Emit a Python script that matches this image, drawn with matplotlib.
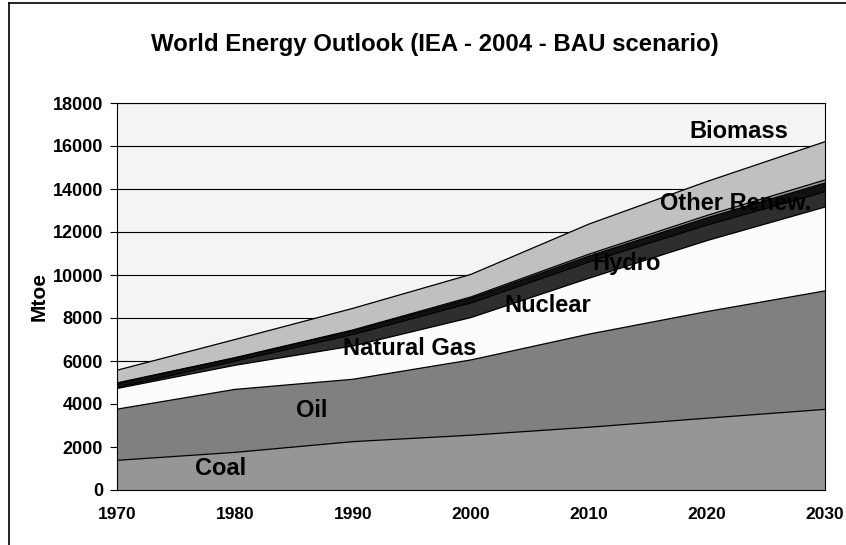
import numpy as np
import matplotlib
matplotlib.use("Agg")
import matplotlib.pyplot as plt
from matplotlib.lines import Line2D

plt.rcParams['font.family'] = ['Liberation Sans', 'DejaVu Sans']

years = [1970, 1980, 1990, 2000, 2010, 2020, 2030]
coal = [1380, 1750, 2250, 2550, 2920, 3340, 3750]
oil = [2380, 2930, 2900, 3500, 4330, 4960, 5510]
natural_gas = [960, 1120, 1550, 1970, 2600, 3300, 3900]
nuclear = [40, 190, 530, 680, 750, 720, 710]
hydro = [200, 150, 180, 225, 280, 340, 410]
other_renew = [20, 15, 35, 55, 90, 110, 140]
biomass = [590, 845, 1005, 1050, 1400, 1580, 1780]

series_names = ["Coal", "Oil", "Natural Gas", "Nuclear", "Hydro", "Other Renew.", "Biomass"]
series = [coal, oil, natural_gas, nuclear, hydro, other_renew, biomass]
colors = ["#969696", "#808080", "#fcfcfc", "#2e2e2e", "#111111", "#9a9a9a", "#c0c0c0"]
yticks = list(range(0, 18001, 2000))

W, H = 846, 545
fig = plt.figure(figsize=(W / 100, H / 100), dpi=100)
ax = fig.add_axes([117 / W, 1 - 490 / H, (825 - 117) / W, (490 - 103) / H])
ax.set_facecolor("#f4f4f4")

x = np.array(years)
base = np.zeros(len(years))
for vals, col in zip(series, colors):
    top = base + np.array(vals)
    ax.fill_between(x, base, top, facecolor=col, edgecolor="none", zorder=2)
    ax.plot(x, top, color="black", lw=0.9, zorder=3)
    base = top

ax.set_xlim(1970, 2030)
ax.set_ylim(0, 18000)
ax.set_yticks(yticks)
ax.set_yticklabels([str(v) for v in yticks], fontsize=13, fontweight="bold")
ax.set_xticks(years)
ax.set_xticklabels([str(y) for y in years], fontsize=12.5, fontweight="bold")
ax.tick_params(axis="x", length=0, pad=12)
ax.tick_params(axis="y", length=5, width=0.8, direction="out", pad=5)
ax.set_xticks([1970, 2030], minor=True)
ax.tick_params(axis="x", which="minor", length=5, width=0.8, direction="out")
ax.yaxis.grid(True, color="black", lw=0.8, zorder=1)
ax.set_axisbelow(True)
for s in ax.spines.values():
    s.set_color("black")
    s.set_linewidth(0.8)
    s.set_zorder(4)

ax.set_ylabel("Mtoe", fontsize=15, fontweight="bold", labelpad=3)

label_pos = {
    "Coal": (1978.8, 1010),
    "Oil": (1986.5, 3710),
    "Natural Gas": (1994.8, 6600),
    "Nuclear": (2006.5, 8600),
    "Hydro": (2013.2, 10550),
    "Other Renew.": (2022.4, 13340),
    "Biomass": (2022.7, 16690),
}
for name in series_names:
    lx, ly = label_pos[name]
    ax.text(lx, ly, name, fontsize=17, fontweight="bold", ha="center", va="center", zorder=5)

fig.text(435 / W, 1 - 45 / H, "World Energy Outlook (IEA - 2004 - BAU scenario)",
         fontsize=17.3, fontweight="bold", ha="center", va="center")

# figure frame (left and top edges visible)
fig.add_artist(Line2D([9 / W, 9 / W], [0, 1 - 3 / H], color="black", lw=1.2, transform=fig.transFigure))
fig.add_artist(Line2D([9 / W, 1], [1 - 3 / H, 1 - 3 / H], color="black", lw=1.2, transform=fig.transFigure))

fig.savefig("out.png", dpi=100, facecolor="white")
